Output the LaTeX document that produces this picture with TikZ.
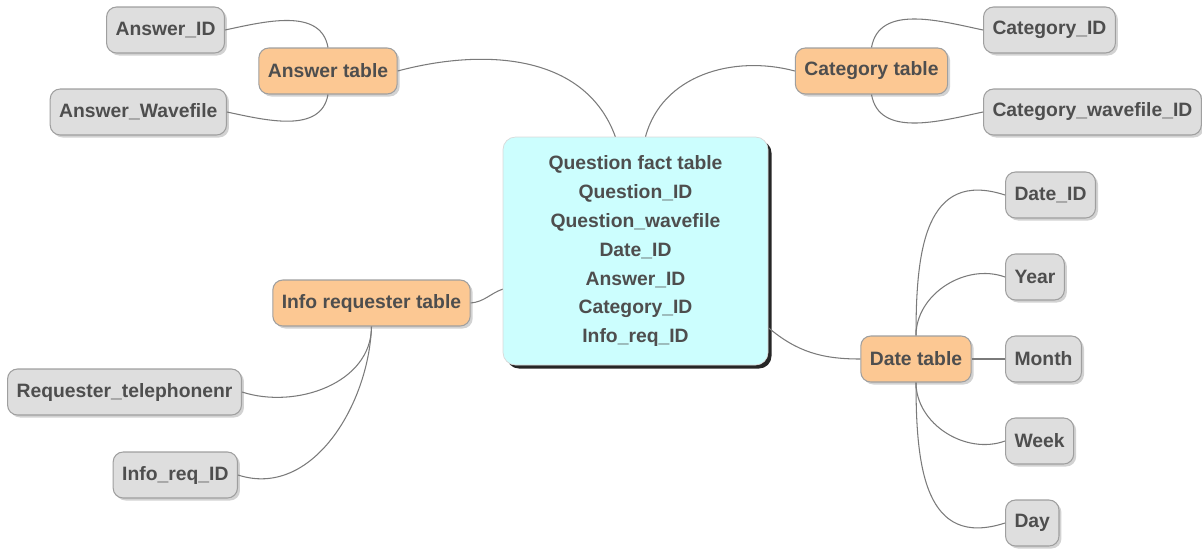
\documentclass[tikz,border=0pt]{standalone}
\usepackage{fontspec}
\setmainfont{Liberation Sans}
\usepackage{xcolor}
\usetikzlibrary{shadows}
\definecolor{txtgray}{HTML}{4E4E4E}
\definecolor{linegray}{HTML}{7A7A7A}
\definecolor{tableorange}{HTML}{FCC893}
\definecolor{fieldgray}{HTML}{DEDEDE}
\definecolor{factcyan}{HTML}{CCFEFE}

\begin{document}
\begin{tikzpicture}[
    every node/.style = {font=\fontsize{11}{16.5}\selectfont\bfseries,
      text=txtgray},
    itembox/.style    = {draw=gray!75, line width=0.6pt,
      rounded corners=0.2cm, minimum height=0.92cm, inner xsep=0.18cm,
      drop shadow={shadow xshift=0.05cm, shadow yshift=-0.05cm,
        fill=gray!70, opacity=0.5}},
    tablebox/.style   = {itembox, fill=tableorange},
    fieldbox/.style   = {itembox, fill=fieldgray},
    factbox/.style    = {draw=gray!30, fill=factcyan, rounded corners=0.25cm,
      minimum width=5.3cm, minimum height=4.56cm, align=center,
      drop shadow={shadow xshift=0.07cm, shadow yshift=-0.07cm,
        fill=black!85, opacity=1}},
    link/.style       = {draw=linegray, line width=0.6pt},
  ]
  \useasboundingbox (0,0) rectangle (24.04,-10.96);

  % fact table in the middle
  \node[factbox] (fact) at (12.71,-5.02) {%
    Question fact table\\Question\_ID\\Question\_wavefile\\Date\_ID\\
    Answer\_ID\\Category\_ID\\Info\_req\_ID};

  % dimension tables
  \node[tablebox] (answer)   at (6.56,-1.42)  {Answer table};
  \node[tablebox] (category) at (17.43,-1.42) {Category table};
  \node[tablebox] (inforeq)  at (7.43,-6.06)  {Info requester table};
  \node[tablebox] (date)     at (18.32,-7.18) {Date table};

  % their fields
  \node[fieldbox, anchor=east] (ansid)   at (4.50,-0.60) {Answer\_ID};
  \node[fieldbox, anchor=east] (answave) at (4.54,-2.24) {Answer\_Wavefile};
  \node[fieldbox, anchor=west] (catid)   at (19.66,-0.60) {Category\_ID};
  \node[fieldbox, anchor=west] (catwave) at (19.66,-2.24) {Category\_wavefile\_ID};
  \node[fieldbox, anchor=east] (reqtel)  at (4.84,-7.84) {Requester\_telephonenr};
  \node[fieldbox, anchor=east] (reqid)   at (4.76,-9.50) {Info\_req\_ID};
  \node[fieldbox, anchor=west] (dateid)  at (20.10,-3.90)  {Date\_ID};
  \node[fieldbox, anchor=west] (year)    at (20.10,-5.54)  {Year};
  \node[fieldbox, anchor=west] (month)   at (20.10,-7.18)  {Month};
  \node[fieldbox, anchor=west] (week)    at (20.10,-8.82)  {Week};
  \node[fieldbox, anchor=west] (day)     at (20.10,-10.46) {Day};

  % fact table to dimension tables
  \draw[link] (answer.east) to[out=15,in=110] (fact.100);
  \draw[link] (category.west) to[out=165,in=75] (fact.85);
  \draw[link] (inforeq.east) to[out=5,in=200] (fact.196);
  \draw[link] (fact.-30) to[out=-40,in=180] (date.west);

  % dimension tables to fields
  \draw[link] (answer.north) to[out=100,in=12] (ansid.east);
  \draw[link] (answer.south) to[out=-100,in=-12] (answave.east);
  \draw[link] (category.north) to[out=80,in=168] (catid.west);
  \draw[link] (category.south) to[out=-80,in=-168] (catwave.west);
  \draw[link] (inforeq.south) to[out=-90,in=-18] (reqtel.east);
  \draw[link] (inforeq.south) to[out=-92,in=-18] (reqid.east);
  \draw[link] (date.north) to[out=90,in=162,looseness=1.3] (dateid.west);
  \draw[link] (date.north) to[out=90,in=160] (year.west);
  \draw[link] (date.east) -- (month.west);
  \draw[link] (date.south) to[out=-90,in=200] (week.west);
  \draw[link] (date.south) to[out=-90,in=198,looseness=1.3] (day.west);
\end{tikzpicture}
\end{document}
